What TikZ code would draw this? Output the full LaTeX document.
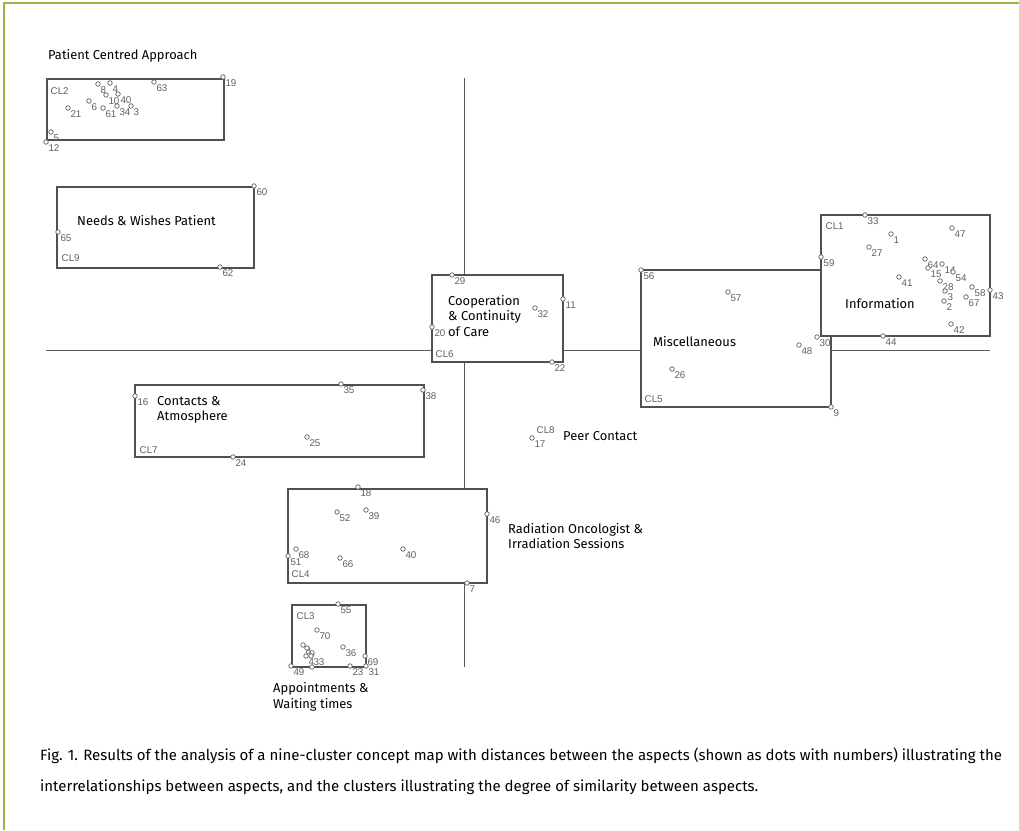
\documentclass[tikz,border=0pt]{standalone}
\usepackage{fontspec}
\setmainfont{Fira Sans}
\newfontfamily\numfont{Liberation Sans}
\newfontfamily\capfont{Fira Sans}
\usepackage{tikz}
\usetikzlibrary{positioning}

\definecolor{frameolive}{RGB}{166,176,64}
\definecolor{boxgray}{RGB}{80,80,80}
\definecolor{numgray}{RGB}{95,95,95}

\tikzset{
    cluster/.style={draw=boxgray, fill=white, line width=1.3pt},
    axis/.style={draw=black!65, line width=1pt},
    dot/.style={draw=numgray, fill=white, circle, inner sep=0pt, minimum size=4.5pt, line width=0.7pt},
    num/.style={font=\numfont\fontsize{9.8}{10}\selectfont, text=numgray, inner sep=0.5pt, anchor=north west},
    cname/.style={font=\fontsize{12.9}{15.5}\selectfont, align=left, anchor=west, inner sep=0pt},
    caption/.style={font=\capfont\fontsize{15}{16}\selectfont, anchor=west, inner sep=0pt}
}

\begin{document}
\begin{tikzpicture}[x=1pt,y=-1pt]
    \useasboundingbox (0,0) rectangle (1019,830);

    % Frame
    \draw[frameolive, line width=2pt] (1019,3) -- (4,3) -- (4,830);

    % Axes
    \draw[axis] (464,78) -- (464,667);
    \draw[axis] (46,350) -- (990,350);

    % Clusters
    \draw[cluster] (47,79) rectangle (224,140);
    \draw[cluster] (57,187) rectangle (254,268);
    \draw[cluster] (432,275) rectangle (563,362);
    \draw[cluster] (641,270) rectangle (831,407);
    \draw[cluster] (821,215) rectangle (990,336);
    \draw[cluster] (135,385) rectangle (424,457);
    \draw[cluster] (288,489) rectangle (487,583);
    \draw[cluster] (292,605) rectangle (366,667);

    % Cluster tags
    \node[num] (cl2) at (50,87) {CL2};
    \node[num] (cl9) at (61,254) {CL9};
    \node[num] (cl6) at (435,350) {CL6};
    \node[num] (cl5) at (644,395) {CL5};
    \node[num] (cl1) at (825,222) {CL1};
    \node[num] (cl7) at (139,446) {CL7};
    \node[num] (cl4) at (291,570) {CL4};
    \node[num] (cl3) at (296,612) {CL3};
    \node[num] (cl8) at (536,426) {CL8};

    % Aspects
    \foreach \x/\y/\n in {
        223/77/19, 154/82/63, 98/84/8, 110/83/4, 106/95/10, 118/94/40,
        89/101/6, 68/108/21, 103/108/61, 117/106/34, 131/106/3, 51/132/5, 46/142/12,
        254/186/60, 58/232/65, 220/267/62,
        452/275/29, 563/299/11, 535/308/32, 432/327/20, 552/362/22,
        641/270/56, 728/292/57, 817/337/30, 799/345/48, 672/369/26, 831/407/9,
        865/215/33, 952/228/47, 891/234/1, 869/247/27, 821/257/59, 925/259/64,
        928/268/15, 942/264/14, 953/272/54, 940/281/28, 945/291/3, 944/301/2,
        972/287/58, 966/297/67, 990/290/43, 899/277/41, 951/324/42, 883/336/44,
        135/396/16, 341/384/35, 423/390/38, 307/437/25, 233/457/24,
        358/487/18, 337/512/52, 366/510/39, 487/514/46, 296/549/68, 288/556/51,
        340/558/66, 403/549/40, 467/583/7,
        338/604/55, 317/630/70, 343/647/36, 303/645/8, 307/648/9, 306/656/4,
        311/656/33, 365/656/69, 291/666/49, 350/666/23, 366/666/31,
        532/438/17}
    {
        \node[dot] (p\n) at (\x,\y) {};
        \node[num] at (p\n.south east) {\n};
    }
    \node[dot] (p0) at (312,667) {};

    % Cluster names
    \node[cname] (pca) at (48,56) {Patient Centred Approach};
    \node[cname] (nwp) at (77,221) {Needs \& Wishes Patient};
    \node[cname] (ccc) at (448,316) {Cooperation\\\& Continuity\\of Care};
    \node[cname] (misc) at (653,342) {Miscellaneous};
    \node[cname] (info) at (845,304) {Information};
    \node[cname] (catm) at (157,410) {Contacts \&\\Atmosphere};
    \node[cname] (peer) at (563,436) {Peer Contact};
    \node[cname] (rois) at (508,536) {Radiation Oncologist \&\\Irradiation Sessions};
    \node[cname] (awt) at (273,697) {Appointments \&\\Waiting times};

    % Caption
    \node[caption] (cap1) at (40,756) {Fig. 1. Results of the analysis of a nine-cluster concept map with distances between the aspects (shown as dots with numbers) illustrating the};
    \node[caption] (cap2) at (40,787) {interrelationships between aspects, and the clusters illustrating the degree of similarity between aspects.};
\end{tikzpicture}
\end{document}
